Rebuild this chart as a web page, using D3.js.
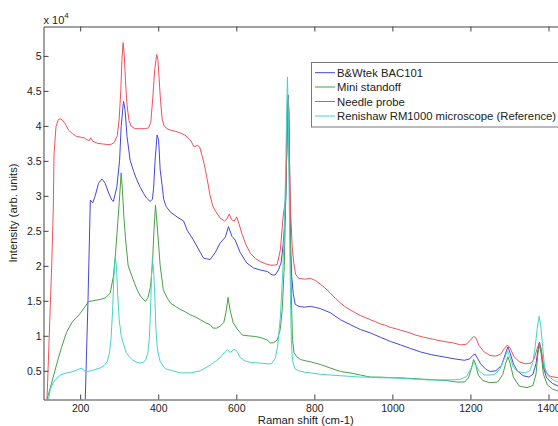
<!DOCTYPE html>
<html>
<head>
<meta charset="utf-8">
<script src="https://cdn.jsdelivr.net/npm/d3@7"></script>
<style>
  html, body { margin: 0; padding: 0; background: #fff; overflow: hidden; }
  svg { display: block; font-family: "Liberation Sans", Arial, Helvetica, sans-serif; }
</style>
</head>
<body>
<script>
// ---- data (intensity in units of 1e4) ----
const seriesNames = ["B&Wtek BAC101", "Mini standoff", "Needle probe", "Renishaw RM1000 microscope (Reference)"];
const seriesColors = ["#4646dc", "#46a046", "#f0505a", "#46d2c8"];

const bwtek = [[213,0.09],[220,1.5],[226,2.94],[232,2.9],[238,2.99],[247,3.18],[256,3.24],[264,3.18],[273,3.04],[281,2.94],[285,2.92],[294,3.13],[301,3.51],[305,3.99],[311,4.35],[315,4.23],[320,3.85],[328,3.51],[337,3.35],[345,3.23],[354,3.12],[362,3.04],[370,2.97],[379,2.92],[385,2.95],[388,3.1],[392,3.51],[397,3.87],[401,3.8],[405,3.37],[410,3.15],[414,2.95],[420,2.85],[431,2.77],[448,2.7],[465,2.64],[474,2.51],[490,2.37],[508,2.19],[516,2.11],[524,2.1],[533,2.09],[546,2.19],[559,2.33],[572,2.41],[580,2.56],[589,2.42],[597,2.37],[610,2.19],[627,2.04],[644,1.97],[662,1.94],[679,1.92],[692,1.87],[700,1.87],[708,1.94],[715,2.05],[720,2.3],[724,2.6],[727,3.0],[730,3.8],[733,4.44],[735,4.2],[737,3.2],[739,2.3],[742,1.85],[746,1.6],[751,1.45],[760,1.42],[775,1.41],[790,1.42],[800,1.41],[815,1.39],[841,1.33],[867,1.23],[892,1.16],[918,1.09],[944,1.04],[969,0.98],[995,0.92],[1021,0.87],[1046,0.82],[1072,0.77],[1100,0.73],[1130,0.7],[1160,0.67],[1185,0.65],[1198,0.67],[1206,0.72],[1212,0.74],[1218,0.68],[1226,0.6],[1240,0.52],[1251,0.49],[1265,0.5],[1280,0.58],[1290,0.75],[1296,0.84],[1302,0.75],[1310,0.6],[1320,0.5],[1335,0.43],[1350,0.41],[1360,0.45],[1368,0.6],[1373,0.8],[1377,0.91],[1381,0.8],[1387,0.55],[1395,0.4],[1410,0.32],[1430,0.27],[1450,0.25]];

const miniStandoff = [[115,0.09],[128,0.35],[140,0.6],[152,0.83],[165,1.05],[180,1.2],[192,1.27],[200,1.32],[213,1.42],[221,1.49],[233,1.5],[251,1.52],[264,1.54],[277,1.61],[285,1.85],[291,2.2],[296,2.6],[300,2.9],[305,3.33],[308,3.1],[312,2.7],[316,2.4],[323,2.0],[336,1.8],[345,1.67],[354,1.57],[367,1.49],[374,1.55],[380,1.7],[385,2.0],[389,2.5],[393,2.87],[397,2.6],[401,2.3],[405,2.0],[413,1.66],[422,1.55],[431,1.47],[444,1.42],[456,1.38],[470,1.34],[482,1.3],[495,1.27],[508,1.23],[520,1.19],[533,1.16],[540,1.11],[550,1.11],[559,1.14],[568,1.19],[574,1.35],[579,1.55],[584,1.37],[592,1.19],[603,1.09],[616,1.01],[630,1.0],[650,0.99],[665,0.97],[679,0.94],[687,0.9],[695,0.9],[705,0.94],[713,1.1],[718,1.4],[723,2.0],[728,3.3],[732,4.35],[735,3.6],[738,2.6],[741,1.6],[744,0.95],[748,0.76],[755,0.7],[765,0.66],[780,0.64],[790,0.63],[815,0.59],[841,0.54],[867,0.49],[892,0.47],[918,0.44],[944,0.41],[969,0.41],[1000,0.4],[1021,0.4],[1050,0.39],[1080,0.38],[1110,0.37],[1140,0.36],[1165,0.34],[1185,0.34],[1195,0.4],[1202,0.52],[1208,0.66],[1213,0.6],[1220,0.44],[1232,0.36],[1250,0.33],[1270,0.34],[1283,0.45],[1290,0.6],[1296,0.7],[1302,0.6],[1310,0.41],[1325,0.28],[1345,0.26],[1360,0.29],[1368,0.45],[1373,0.75],[1377,0.87],[1381,0.75],[1387,0.45],[1397,0.3],[1410,0.24],[1430,0.2],[1450,0.18]];

const needleProbe = [[115,0.09],[122,1.2],[127,2.0],[131,2.8],[133,3.6],[138,3.99],[144,4.09],[150,4.1],[156,4.07],[162,4.03],[170,3.94],[180,3.89],[190,3.85],[200,3.84],[210,3.83],[218,3.8],[223,3.79],[227,3.83],[232,3.78],[245,3.75],[260,3.74],[277,3.73],[287,3.76],[295,3.86],[300,4.1],[304,4.5],[307,4.95],[310,5.19],[313,5.0],[316,4.65],[320,4.3],[325,4.08],[330,4.0],[340,3.96],[352,3.96],[365,3.96],[375,3.97],[381,4.05],[386,4.4],[391,4.8],[396,5.02],[399,4.95],[402,4.7],[406,4.35],[410,4.1],[415,4.0],[422,3.96],[431,3.94],[445,3.92],[456,3.9],[468,3.87],[482,3.8],[492,3.7],[500,3.72],[506,3.7],[512,3.58],[518,3.45],[525,3.25],[533,3.0],[540,2.85],[548,2.77],[559,2.68],[570,2.64],[576,2.67],[582,2.74],[588,2.66],[595,2.64],[601,2.7],[607,2.6],[615,2.45],[625,2.3],[636,2.18],[650,2.1],[662,2.06],[675,2.03],[687,2.01],[698,2.01],[705,2.02],[713,2.23],[720,2.7],[726,2.95],[730,3.8],[733,4.4],[736,3.6],[739,2.8],[743,2.3],[747,2.05],[752,1.88],[760,1.82],[775,1.81],[790,1.82],[803,1.79],[815,1.74],[830,1.67],[841,1.61],[855,1.53],[867,1.47],[880,1.41],[892,1.37],[905,1.33],[918,1.29],[931,1.26],[944,1.23],[957,1.2],[969,1.17],[982,1.15],[995,1.12],[1010,1.1],[1021,1.08],[1040,1.05],[1060,1.01],[1080,0.98],[1105,0.95],[1130,0.92],[1155,0.9],[1175,0.87],[1190,0.88],[1200,0.94],[1208,0.99],[1214,0.97],[1222,0.86],[1235,0.77],[1250,0.72],[1265,0.71],[1278,0.74],[1287,0.82],[1295,0.87],[1302,0.82],[1312,0.7],[1325,0.63],[1340,0.6],[1355,0.61],[1363,0.67],[1370,0.8],[1376,0.9],[1381,0.82],[1387,0.6],[1394,0.47],[1405,0.42],[1426,0.4],[1450,0.38]];

const renishaw = [[119,0.09],[123,0.23],[130,0.32],[136,0.37],[149,0.44],[166,0.47],[182,0.49],[195,0.52],[204,0.54],[210,0.5],[218,0.49],[233,0.51],[251,0.54],[262,0.58],[269,0.63],[275,0.75],[279,0.95],[283,1.35],[286,1.8],[290,2.12],[293,2.0],[296,1.6],[300,1.23],[305,1.0],[310,0.9],[318,0.76],[326,0.7],[333,0.66],[345,0.62],[354,0.61],[362,0.62],[368,0.66],[373,0.75],[377,0.95],[380,1.33],[383,1.9],[385,2.1],[388,1.95],[391,1.6],[394,1.1],[398,0.8],[405,0.63],[418,0.53],[431,0.51],[456,0.47],[482,0.47],[508,0.5],[533,0.58],[550,0.65],[559,0.69],[566,0.74],[572,0.77],[577,0.8],[585,0.76],[592,0.8],[598,0.8],[603,0.76],[610,0.69],[623,0.64],[636,0.62],[662,0.61],[680,0.6],[690,0.6],[700,0.68],[706,0.85],[713,1.27],[719,1.9],[723,2.5],[727,3.5],[729,4.2],[731,4.7],[733,4.3],[735,3.3],[737,2.3],[739,1.5],[741,0.95],[744,0.65],[750,0.53],[760,0.5],[775,0.48],[790,0.47],[815,0.45],[841,0.44],[867,0.43],[892,0.42],[918,0.41],[944,0.41],[969,0.4],[1000,0.4],[1030,0.39],[1060,0.38],[1090,0.37],[1120,0.37],[1150,0.37],[1175,0.38],[1190,0.42],[1200,0.52],[1208,0.61],[1214,0.58],[1222,0.5],[1235,0.44],[1250,0.44],[1262,0.45],[1275,0.52],[1285,0.65],[1295,0.78],[1302,0.68],[1310,0.55],[1322,0.49],[1340,0.47],[1352,0.5],[1360,0.62],[1366,0.85],[1371,1.1],[1376,1.28],[1380,1.15],[1385,0.85],[1390,0.55],[1400,0.42],[1415,0.36],[1430,0.33],[1450,0.31]];

const seriesData = [bwtek, miniStandoff, needleProbe, renishaw];

const xTicks = [200, 400, 600, 800, 1000, 1200, 1400];
const xTickLabels = ["200", "400", "600", "800", "1000", "1200", "1400"];
const yTicks = [0.5, 1, 1.5, 2, 2.5, 3, 3.5, 4, 4.5, 5];
const yTickLabels = ["0.5", "1", "1.5", "2", "2.5", "3", "3.5", "4", "4.5", "5"];
const xDomain = [106, 1450];
const yDomain = [0.09, 5.42];

// ---- layout ----
const W = 558, H = 426;
const L = 43.5, R = 568, T = 26.5, B = 399.5;

const svg = d3.select("body").append("svg").attr("width", W).attr("height", H);
const x = d3.scaleLinear().domain(xDomain).range([L, R]);
const y = d3.scaleLinear().domain(yDomain).range([B, T]);

svg.append("defs").append("clipPath").attr("id", "clip")
  .append("rect").attr("x", L).attr("y", T).attr("width", R - L).attr("height", B - T);

const axisColor = "#444";
const textColor = "#222";
const tickLen = 5;

// lines
const line = d3.line().x(d => x(d[0])).y(d => y(d[1]));
const plot = svg.append("g").attr("clip-path", "url(#clip)");
seriesData.forEach((s, i) => {
  plot.append("path").datum(s)
    .attr("d", line)
    .attr("fill", "none")
    .attr("stroke", seriesColors[i])
    .attr("stroke-width", 1)
    .attr("stroke-linejoin", "round");
});

// axes (MATLAB style: ticks inward, box)
const xAxisB = d3.axisBottom(x).tickValues(xTicks).tickSizeInner(-tickLen).tickSizeOuter(0).tickPadding(5)
  .tickFormat((d, i) => xTickLabels[i]);
const xAxisT = d3.axisTop(x).tickValues(xTicks).tickSizeInner(-tickLen).tickSizeOuter(0).tickFormat("");
const yAxisL = d3.axisLeft(y).tickValues(yTicks).tickSizeInner(-tickLen).tickSizeOuter(0).tickPadding(2)
  .tickFormat((d, i) => yTickLabels[i]);
const yAxisR = d3.axisRight(y).tickValues(yTicks).tickSizeInner(-tickLen).tickSizeOuter(0).tickFormat("");

function style(g) {
  g.select(".domain").attr("stroke", axisColor);
  g.selectAll(".tick line").attr("stroke", axisColor);
  g.selectAll(".tick text").attr("fill", textColor).attr("font-size", 10.5)
    .attr("font-family", "Liberation Sans, Arial, sans-serif");
}
svg.append("g").attr("transform", `translate(0,${B})`).call(xAxisB).call(style);
svg.append("g").attr("transform", `translate(0,${T})`).call(xAxisT).call(style);
svg.append("g").attr("transform", `translate(${L},0)`).call(yAxisL).call(style);
svg.append("g").attr("transform", `translate(${R},0)`).call(yAxisR).call(style);

// exponent label
const expo = svg.append("text").attr("x", L).attr("y", 23.5)
  .attr("font-size", 11).attr("fill", textColor);
expo.append("tspan").text("x 10");
expo.append("tspan").attr("dy", -6).attr("font-size", 8).text("4");

// axis labels
svg.append("text").attr("x", (L + R) / 2).attr("y", 423.5)
  .attr("text-anchor", "middle").attr("font-size", 11.3).attr("fill", textColor)
  .text("Raman shift (cm-1)");
svg.append("text").attr("transform", `translate(17,${(T + B) / 2}) rotate(-90)`)
  .attr("text-anchor", "middle").attr("font-size", 11.3).attr("fill", textColor)
  .text("Intensity (arb. units)");

// legend
const lg = svg.append("g");
lg.append("rect").attr("x", 311.5).attr("y", 62.5).attr("width", 260).attr("height", 64.5)
  .attr("fill", "#fff").attr("stroke", "#777").attr("stroke-width", 1);
const rowY = [72.7, 87, 101.5, 116];
seriesNames.forEach((name, i) => {
  lg.append("line").attr("x1", 315).attr("x2", 335).attr("y1", rowY[i]).attr("y2", rowY[i])
    .attr("stroke", seriesColors[i]).attr("stroke-width", 1);
  lg.append("text").attr("x", 337).attr("y", rowY[i] + 4).attr("font-size", 11.3)
    .attr("fill", textColor).text(name);
});
</script>
</body>
</html>
